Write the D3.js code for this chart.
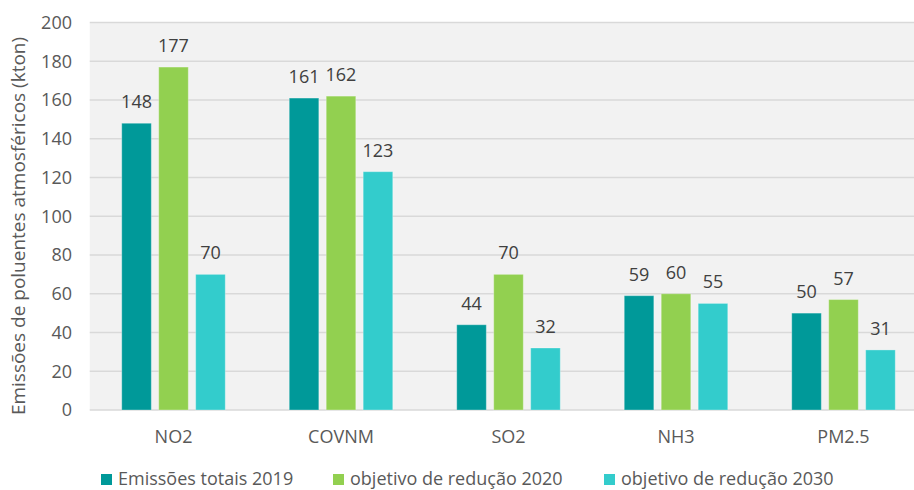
<!DOCTYPE html>
<html>
<head>
<meta charset="utf-8">
<script src="https://cdn.jsdelivr.net/npm/d3@7"></script>
<style>
  html, body { margin: 0; padding: 0; background: #ffffff; }
  svg { display: block; font-family: "Open Sans", "Noto Sans", sans-serif; }
</style>
</head>
<body>
<svg id="chart" width="914" height="490"></svg>
<script>
// Pollutants and emission values (kton)
const categories = ["NO2", "COVNM", "SO2", "NH3", "PM2.5"];
const seriesNames = ["Emissões totais 2019", "objetivo de redução 2020", "objetivo de redução 2030"];
const emissions2019 = [148, 161, 44, 59, 50];
const target2020 = [177, 162, 70, 60, 57];
const target2030 = [70, 123, 32, 55, 31];
const yTicks = [0, 20, 40, 60, 80, 100, 120, 140, 160, 180, 200];
const yTitle = "Emissões de poluentes atmosféricos (kton)";

const seriesValues = [emissions2019, target2020, target2030];
const colors = ["#009999", "#92D050", "#33CCCC"];

const svg = d3.select("#chart");
const W = 914, H = 490;
const plot = { left: 89.75, right: 927.25, top: 22.5, bottom: 410 };

const x0 = d3.scaleBand()
  .domain(categories)
  .range([plot.left, plot.right])
  .paddingInner(0.382)
  .paddingOuter(0.191);

const x1 = d3.scaleBand()
  .domain(d3.range(seriesNames.length))
  .range([0, x0.bandwidth()])
  .paddingInner(0.2);

const y = d3.scaleLinear().domain([0, 200]).range([plot.bottom, plot.top]);

// Plot background
svg.append("rect")
  .attr("x", plot.left).attr("y", plot.top)
  .attr("width", Math.min(plot.right, W) - plot.left)
  .attr("height", plot.bottom - plot.top)
  .attr("fill", "#F2F2F2");

// Horizontal gridlines
svg.append("g")
  .selectAll("line")
  .data(yTicks)
  .join("line")
  .attr("x1", plot.left).attr("x2", W)
  .attr("y1", d => y(d)).attr("y2", d => y(d))
  .attr("stroke", "#D9D9D9")
  .attr("stroke-width", 1.3);

// Y axis tick labels
const yAxis = d3.axisLeft(y).tickValues(yTicks).tickSize(0).tickPadding(0);
const gy = svg.append("g").attr("transform", `translate(72,0)`).call(yAxis);
gy.select(".domain").remove();
gy.selectAll("text")
  .attr("font-family", "\"Open Sans\", sans-serif")
  .attr("font-size", 18)
  .attr("fill", "#595959");

// Y axis title
svg.append("text")
  .attr("transform", `translate(25,${226}) rotate(-90)`)
  .attr("text-anchor", "middle")
  .attr("font-size", 19)
  .attr("fill", "#595959")
  .text(yTitle);

// Bars
const rows = categories.map((c, i) => ({
  cat: c,
  vals: seriesValues.map((s, k) => ({ k, v: s[i] }))
}));

const groups = svg.append("g")
  .selectAll("g")
  .data(rows)
  .join("g")
  .attr("transform", d => `translate(${x0(d.cat)},0)`);

groups.selectAll("rect")
  .data(d => d.vals)
  .join("rect")
  .attr("x", d => x1(d.k))
  .attr("y", d => y(d.v))
  .attr("width", x1.bandwidth())
  .attr("height", d => y(0) - y(d.v))
  .attr("fill", d => colors[d.k])
  .attr("stroke", "#ffffff")
  .attr("stroke-opacity", 0.3)
  .attr("stroke-width", 1);

// Value labels
groups.selectAll("text")
  .data(d => d.vals)
  .join("text")
  .attr("x", d => x1(d.k) + x1.bandwidth() / 2)
  .attr("y", d => y(d.v) - 15)
  .attr("text-anchor", "middle")
  .attr("font-size", 18)
  .attr("fill", "#404040")
  .text(d => d.v);

// Category axis labels
const xAxis = d3.axisBottom(x0).tickSize(0).tickPadding(0);
const gx = svg.append("g").attr("transform", `translate(0,${plot.bottom})`).call(xAxis);
gx.select(".domain").remove();
gx.selectAll("text")
  .attr("dy", null)
  .attr("y", 33)
  .attr("font-family", "\"Open Sans\", sans-serif")
  .attr("font-size", 18)
  .attr("fill", "#595959");

// Legend
const legendX = [101, 333, 604];
const legend = svg.append("g")
  .selectAll("g")
  .data(seriesNames)
  .join("g")
  .attr("transform", (d, i) => `translate(${legendX[i]},0)`);
legend.append("rect")
  .attr("x", 0).attr("y", 474)
  .attr("width", 11).attr("height", 11)
  .attr("fill", (d, i) => colors[i]);
legend.append("text")
  .attr("x", 17).attr("y", 485)
  .attr("font-size", 18)
  .attr("fill", "#595959")
  .text(d => d);
</script>
</body>
</html>
